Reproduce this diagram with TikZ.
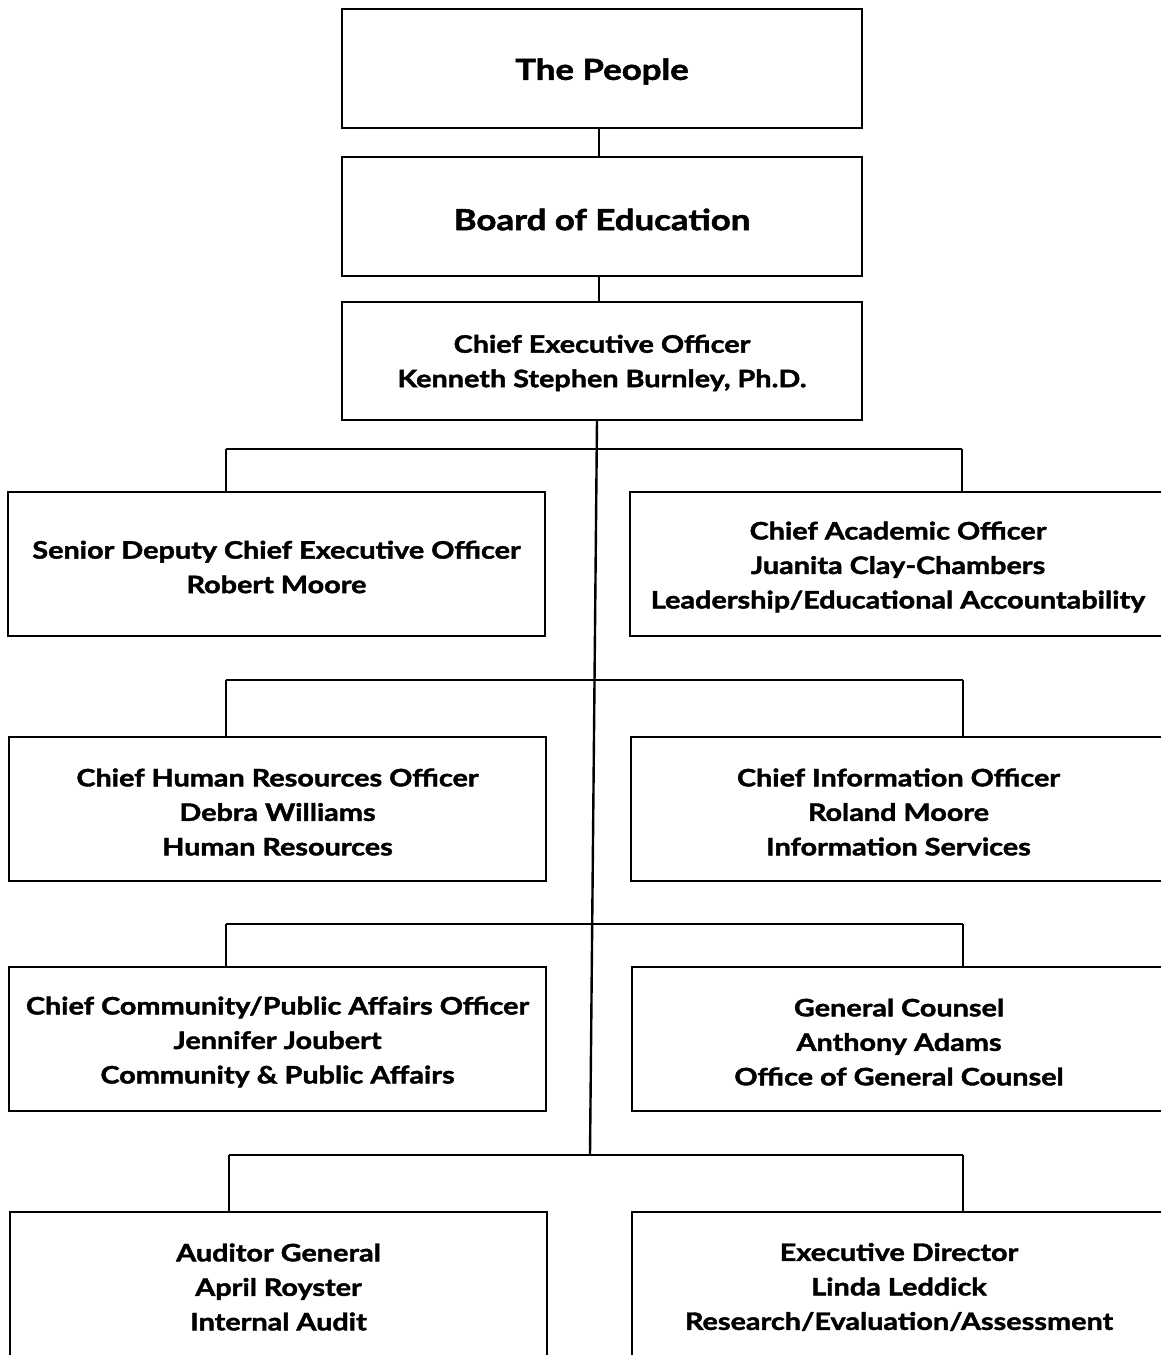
\documentclass[tikz,border=0pt]{standalone}
\usepackage{fontspec}
\setmainfont{Lato}[FakeStretch=1.2,BoldFeatures={FakeBold=1.8}]
\begin{document}
\begin{tikzpicture}[x=1pt,y=-1pt,
  box/.style={draw=black,line width=2.7pt,rectangle,inner sep=0pt,
    minimum width=537pt,minimum height=144pt},
  topbox/.style={box,minimum width=520pt,minimum height=119pt},
  txt/.style={inner sep=0pt,align=center,font=\fontsize{24}{34.5}\selectfont\bfseries},
  big/.style={inner sep=0pt,align=center,font=\fontsize{29}{36}\selectfont\bfseries},
  link/.style={line width=2.4pt}]
\useasboundingbox (0,0) rectangle (1161,1355);
\clip (0,0) rectangle (1161,1355);
% boxes
\node[topbox] (people) at (602,68.5) {};
\node[topbox] (board) at (602,216.5) {};
\node[topbox,minimum height=118pt] (ceo) at (602,361) {};
\node[box] (sdceo) at (276.5,564) {};
\node[box,minimum width=536pt] (cao) at (898,564) {};
\node[box] (chro) at (277.5,809) {};
\node[box,minimum width=535pt] (cio) at (898.5,809) {};
\node[box] (ccpa) at (277.5,1039) {};
\node[box,minimum width=534pt] (gc) at (899,1039) {};
\node[box] (aud) at (278.5,1284) {};
\node[box,minimum width=534pt] (exd) at (899,1284) {};
% texts
\node[big] (people-t) at ([yshift=-3pt]people.center) {The People};
\node[big] (board-t) at ([yshift=-3pt]board.center) {Board of Education};
\node[txt] (ceo-t) at ([yshift=-2pt]ceo.center) {Chief Executive Officer\\Kenneth Stephen Burnley, Ph.D.};
\node[txt] (sdceo-t) at ([yshift=-3pt]sdceo.center) {Senior Deputy Chief Executive Officer\\Robert Moore};
\node[txt] (cao-t) at ([yshift=-3pt]cao.center) {Chief Academic Officer\\Juanita Clay-Chambers\\Leadership/Educational Accountability};
\node[txt] (chro-t) at ([yshift=-3pt]chro.center) {Chief Human Resources Officer\\Debra Williams\\Human Resources};
\node[txt] (cio-t) at ([yshift=-3pt]cio.center) {Chief Information Officer\\Roland Moore\\Information Services};
\node[txt] (ccpa-t) at ([yshift=-3pt]ccpa.center) {Chief Community/Public Affairs Officer\\Jennifer Joubert\\Community \& Public Affairs};
\node[txt] (gc-t) at ([yshift=-3pt]gc.center) {General Counsel\\Anthony Adams\\Office of General Counsel};
\node[txt] (aud-t) at ([yshift=-3pt]aud.center) {Auditor General\\April Royster\\Internal Audit};
\node[txt] (exd-t) at ([yshift=-3pt]exd.center) {Executive Director\\Linda Leddick\\Research/Evaluation/Assessment};
% coordinates
\coordinate (ttop) at (597,420);
\coordinate (tend) at (590,1155);
\coordinate (b1l) at (226,449); \coordinate (b1r) at (962,449);
\coordinate (b2l) at (226,680); \coordinate (b2r) at (963,680);
\coordinate (b3l) at (226,924); \coordinate (b3r) at (963,924);
\coordinate (b4l) at (229,1155); \coordinate (b4r) at (963,1155);
% connectors
\draw[link] (people.south -| 599,0) -- (board.north -| 599,0);
\draw[link] (board.south -| 599,0) -- (ceo.north -| 599,0);
\draw[link] (ttop) -- (tend);
\draw[link] (b1l) -- (b1r);
\draw[link] (b2l) -- (b2r);
\draw[link] (b3l) -- (b3r);
\draw[link] (b4l) -- (b4r);
\draw[link] (b1l) -- (b1l |- sdceo.north);
\draw[link] (b1r) -- (b1r |- cao.north);
\draw[link] (b2l) -- (b2l |- chro.north);
\draw[link] (b2r) -- (b2r |- cio.north);
\draw[link] (b3l) -- (b3l |- ccpa.north);
\draw[link] (b3r) -- (b3r |- gc.north);
\draw[link] (b4l) -- (b4l |- aud.north);
\draw[link] (b4r) -- (b4r |- exd.north);
\end{tikzpicture}
\end{document}
